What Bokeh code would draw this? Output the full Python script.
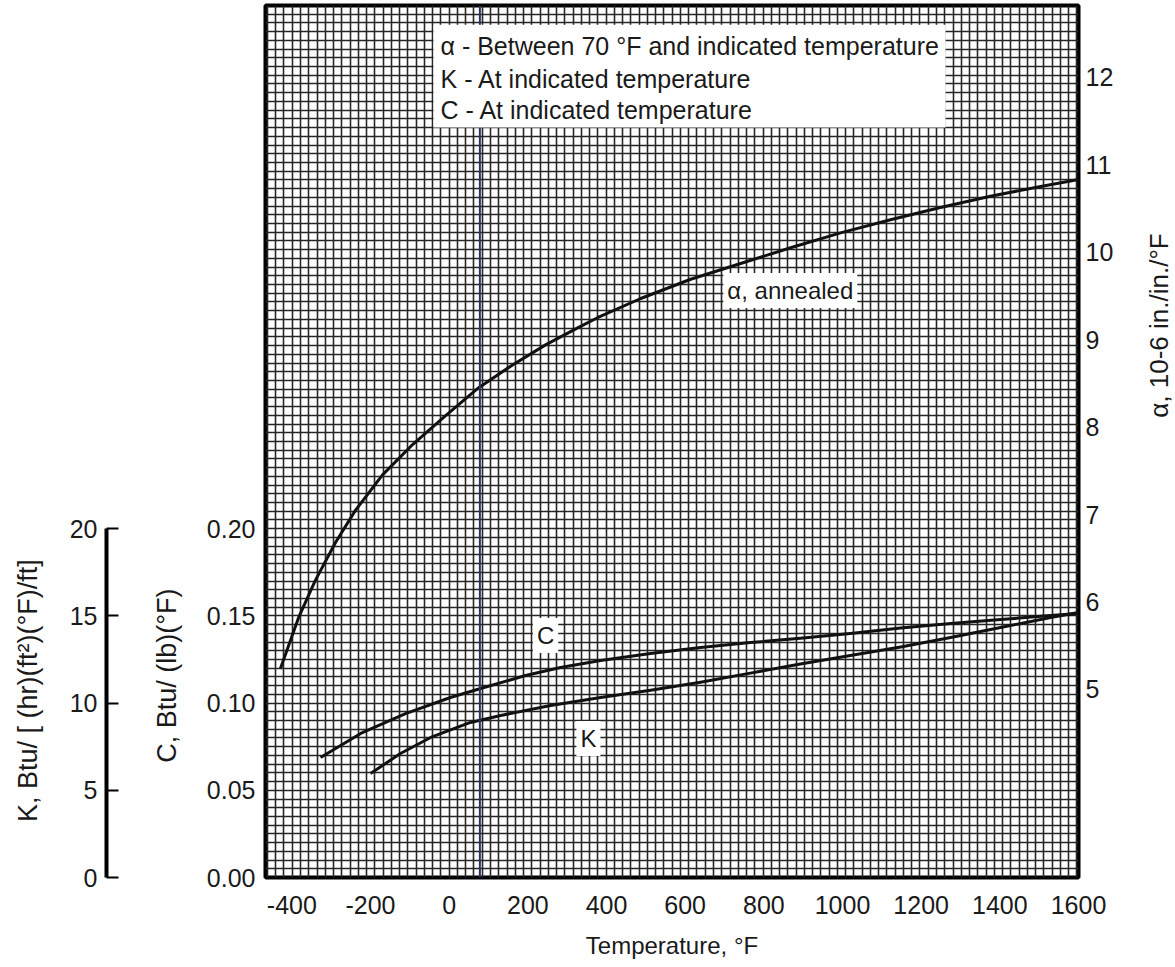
import math
from bokeh.plotting import figure
from bokeh.layouts import row
from bokeh.models import (Range1d, LinearAxis, FixedTicker, SingleIntervalTicker,
                          Span, BoxAnnotation, Label, NumeralTickFormatter)
from bokeh.embed import file_html
from bokeh.resources import INLINE

# ---------------- data ----------------
temp_alpha = [-429, -383, -340, -289, -238, -170, -93, -9, 75, 161, 245, 329, 377,
              487, 614, 741, 868, 995, 1122, 1249, 1376, 1504, 1600]
alpha_vals = [5.24, 5.82, 6.25, 6.68, 7.05, 7.45, 7.80, 8.13, 8.45, 8.71, 8.94, 9.14, 9.25,
              9.47, 9.69, 9.87, 10.05, 10.22, 10.37, 10.51, 10.64, 10.75, 10.83]

temp_c = [-327, -225, -111, 3, 80, 194, 283, 385, 512, 639, 766, 893, 1020, 1148,
          1275, 1402, 1529, 1600]
c_vals = [0.0688, 0.0826, 0.0940, 0.1032, 0.1084, 0.1158, 0.1204, 0.1244, 0.1284,
          0.1319, 0.1347, 0.1372, 0.1399, 0.1430, 0.1456, 0.1479, 0.1502, 0.1514]

temp_k = [-200, -124, -47, 54, 131, 258, 385, 512, 639, 766, 893, 1020, 1148, 1275,
          1402, 1529, 1600]
k_vals = [5.96, 7.11, 8.03, 8.89, 9.29, 9.86, 10.32, 10.74, 11.20, 11.72, 12.24, 12.73,
          13.22, 13.76, 14.33, 14.91, 15.19]

x_ticks = [-400, -200, 0, 200, 400, 600, 800, 1000, 1200, 1400, 1600]
x_tick_labels = {-400: "-400", -200: "-200"}
c_ticks = [0.0, 0.05, 0.10, 0.15, 0.20]
k_ticks = [0, 5, 10, 15, 20]
alpha_ticks = [5, 6, 7, 8, 9, 10, 11, 12]

legend_lines = ["\u03b1 - Between 70 \u00b0F and indicated temperature",
                "K - At indicated temperature",
                "C - At indicated temperature"]
ref_temp = 78  # vertical reference line (70 °F line as drawn)

FONT = "Liberation Sans"
INK = "#1a1a1a"
H = 964
TOP, BOTTOM = 5, 87

def strip(width, border_left, x_max, y_range):
    f = figure(width=width, height=H, x_range=Range1d(0, x_max), y_range=y_range,
               output_backend="svg", toolbar_location=None,
               x_axis_type=None, y_axis_type=None,
               min_border_left=border_left, min_border_right=0,
               min_border_top=TOP, min_border_bottom=BOTTOM,
               background_fill_color="white", border_fill_color="white")
    f.outline_line_color = None
    f.grid.visible = False
    return f

k_range = Range1d(0, 50)

# ---------------- strip A: K title ----------------
pa = strip(66, 0, 66, k_range)
pa.add_layout(Label(x=27, y=10.72, text="K, Btu/ [ (hr)(ft\u00b2)(\u00b0F)/ft]",
                    angle=math.pi / 2, text_font=FONT, text_font_size="27px",
                    text_color=INK, text_align="center", text_baseline="middle"))

# ---------------- strip B: K axis + C title ----------------
pb = strip(134, 40, 94, k_range)
ka = LinearAxis(ticker=FixedTicker(ticks=k_ticks), bounds=(0, 20))
ka.axis_line_color = "black"
ka.axis_line_width = 4
ka.major_tick_in = 12
ka.major_tick_out = 0
ka.major_tick_line_width = 2
ka.major_tick_line_color = "black"
ka.minor_tick_line_color = None
ka.major_label_standoff = 9
ka.major_label_text_font = FONT
ka.major_label_text_font_size = "25px"
ka.major_label_text_color = INK
pb.add_layout(ka, "left")
pb.add_layout(Label(x=60, y=11.58, text="C, Btu/ (lb)(\u00b0F)", angle=math.pi / 2,
                    text_font=FONT, text_font_size="27px", text_color=INK,
                    text_align="center", text_baseline="middle"))

# ---------------- main figure ----------------
p = figure(width=940, height=H,
           x_range=Range1d(-467, 1600), y_range=Range1d(0, 0.5),
           output_backend="svg", toolbar_location=None,
           min_border_left=65, min_border_right=62,
           min_border_top=TOP, min_border_bottom=BOTTOM,
           background_fill_color="white", border_fill_color="white")
p.extra_y_ranges = {"alpha": Range1d(2.85, 12.82), "k": Range1d(0, 50)}

p.outline_line_color = "black"
p.outline_line_width = 4

# dense graph-paper grid
p.xgrid.ticker = SingleIntervalTicker(interval=21, num_minor_ticks=0)
p.ygrid.ticker = SingleIntervalTicker(interval=0.005, num_minor_ticks=0)
for g in (p.xgrid, p.ygrid):
    g.grid_line_color = "#262626"
    g.grid_line_width = 1.6
    g.grid_line_alpha = 1.0

# x axis
xa = p.xaxis[0]
xa.ticker = FixedTicker(ticks=x_ticks)
xa.major_label_overrides = x_tick_labels
xa.axis_line_color = None
xa.major_tick_line_color = None
xa.minor_tick_line_color = None
xa.major_tick_out = 0
xa.major_tick_in = 0
xa.major_label_standoff = 18
xa.major_label_text_font = FONT
xa.major_label_text_font_size = "25px"
xa.major_label_text_color = INK
xa.axis_label = "Temperature, \u00b0F"
xa.axis_label_standoff = 15
xa.axis_label_text_font = FONT
xa.axis_label_text_font_size = "24px"
xa.axis_label_text_font_style = "normal"
xa.axis_label_text_color = INK

# C axis (left): tick labels only
ca = p.yaxis[0]
ca.ticker = FixedTicker(ticks=c_ticks)
ca.formatter = NumeralTickFormatter(format="0.00")
ca.axis_line_color = None
ca.major_tick_line_color = None
ca.minor_tick_line_color = None
ca.major_tick_out = 0
ca.major_tick_in = 0
ca.major_label_standoff = 10
ca.major_label_text_font = FONT
ca.major_label_text_font_size = "25px"
ca.major_label_text_color = INK

# alpha axis (right)
aa = LinearAxis(y_range_name="alpha", ticker=FixedTicker(ticks=alpha_ticks))
aa.axis_line_color = None
aa.major_tick_line_color = None
aa.minor_tick_line_color = None
aa.major_tick_out = 0
aa.major_tick_in = 0
aa.major_label_standoff = 7
aa.major_label_text_font = FONT
aa.major_label_text_font_size = "25px"
aa.major_label_text_color = INK
p.add_layout(aa, "right")

# reference line (under the legend box)
p.add_layout(Span(location=ref_temp, dimension="height", line_color="#27315f",
                  line_width=2))

# curves
p.line(temp_alpha, alpha_vals, y_range_name="alpha", line_color="#111111", line_width=3,
       line_join="round")
p.line(temp_c, c_vals, line_color="#111111", line_width=3, line_join="round")
p.line(temp_k, k_vals, y_range_name="k", line_color="#111111", line_width=3,
       line_join="round")

# legend box
p.add_layout(BoxAnnotation(left=-40, right=1262, top=0.489, bottom=0.430,
                           fill_color="white", fill_alpha=1.0, line_color=None))
leg_y = [0.4765, 0.4576, 0.4398]
for txt, yy in zip(legend_lines, leg_y):
    p.add_layout(Label(x=-22, y=yy, text=txt, text_font=FONT, text_font_size="25px",
                       text_color=INK, text_baseline="middle", text_align="left"))

# curve labels
def tag(x, y, txt, align="center"):
    p.add_layout(Label(x=x, y=y, text=txt, text_font=FONT, text_font_size="24px",
                       text_color=INK, text_baseline="middle", text_align=align,
                       background_fill_color="white", background_fill_alpha=1.0,
                       padding=4))

tag(697, 0.3366, "\u03b1, annealed", align="left")
tag(245, 0.1388, "C")
tag(354, 0.0797, "K")

# ---------------- right strip: rotated alpha title ----------------
p2 = strip(32, 0, 32, p.y_range)
p2.add_layout(Label(x=18, y=0.3165, text="\u03b1, 10-6 in./in./\u00b0F",
                    angle=math.pi / 2, text_font=FONT, text_font_size="26px",
                    text_color=INK, text_align="center", text_baseline="middle"))

layout = row(pa, pb, p, p2, spacing=0)
open("out.html", "w").write(file_html(layout, INLINE))
